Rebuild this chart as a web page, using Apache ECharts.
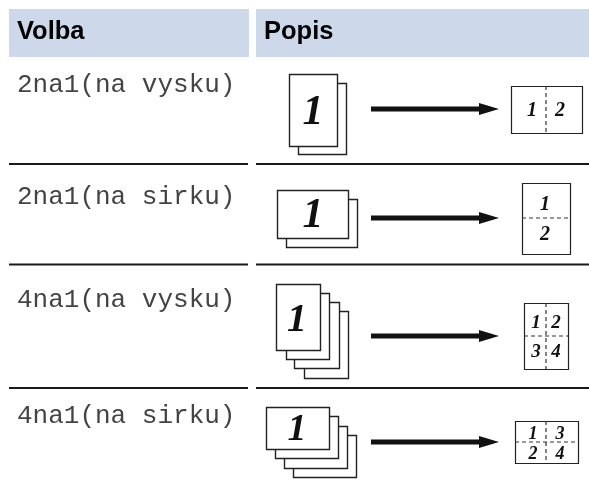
<!DOCTYPE html>
<html>
<head>
<meta charset="utf-8">
<style>
  html, body { margin: 0; padding: 0; background: #fff; }
  #main { width: 589px; height: 481px; }
</style>
<script src="https://cdn.jsdelivr.net/npm/echarts@6/dist/echarts.min.js"></script>
</head>
<body>
<div id="main"></div>
<script>
var headers = ['Volba', 'Popis']
var optionLabels = ['2na1(na vysku)', '2na1(na sirku)', '4na1(na vysku)', '4na1(na sirku)']
var bigDigit = '1'
var resultDigits = [
  ['1', '2'],
  ['1', '2'],
  ['1', '2', '3', '4'],
  ['1', '3', '2', '4']
]

var headerColor = '#cdd9ea'
var ink = '#1a1a1a'
var g = []

function rect(x, y, w, h, fill, stroke, lw) {
  g.push({ type: 'rect', shape: { x: x, y: y, width: w, height: h },
    style: { fill: fill, stroke: stroke || null, lineWidth: lw || 0 } })
}
function line(x1, y1, x2, y2, lw, dash, color) {
  g.push({ type: 'line', shape: { x1: x1, y1: y1, x2: x2, y2: y2 },
    style: { stroke: color || ink, lineWidth: lw, lineDash: dash || null } })
}
function text(str, x, y, font, fill, align) {
  g.push({ type: 'text', x: x, y: y,
    style: { text: str, font: font, fill: fill || ink, align: align || 'left', verticalAlign: 'middle' } })
}
// y is the centre of the glyph, the em box sits a bit higher than the digit
function digit(str, x, y, size) {
  text(str, x, y + size * 0.06, 'italic bold ' + size + 'px "Liberation Serif"', '#111', 'center')
}
function arrow(y) {
  rect(371, y - 2.5, 112, 5, '#111')
  g.push({ type: 'polygon', shape: { points: [[479, y - 6], [499, y], [479, y + 6]] }, style: { fill: '#111' } })
}
// last sheet first, so the front one covers the rest
function stack(sheets) {
  for (var i = sheets.length - 1; i >= 0; i--) {
    var s = sheets[i]
    rect(s[0] + 0.5, s[1] + 0.5, s[2] - s[0], s[3] - s[1], '#fff', '#222', 1.4)
  }
}
function result(x1, y1, x2, y2) {
  rect(x1 + 0.5, y1 + 0.5, x2 - x1, y2 - y1, '#fff', '#222', 1.2)
}

// header bands
rect(9, 9, 240, 48, headerColor)
rect(256, 9, 333, 48, headerColor)
text(headers[0], 17, 32, 'bold 25.5px "Liberation Sans"', '#000')
text(headers[1], 264, 32, 'bold 25.5px "Liberation Sans"', '#000')

// row separators
;[164, 264.5, 388].forEach(function (y) {
  line(9, y, 248, y, 2)
  line(256, y, 589, y, 2)
})

// option names
var labelY = [85, 197, 300, 416]
optionLabels.forEach(function (name, i) {
  text(name, 17, labelY[i], '26px "Liberation Mono"', '#444')
})

// row 1
stack([[289, 74, 337, 146], [298, 83, 346, 154]])
digit(bigDigit, 313, 111, 42)
arrow(109)
result(511, 86, 582, 133)
line(546, 86, 546, 133, 1.2, [4, 3], '#333')
digit(resultDigits[0][0], 532, 110, 20)
digit(resultDigits[0][1], 560, 110, 20)

// row 2
stack([[277, 190, 348, 238], [286, 199, 357, 247]])
digit(bigDigit, 313, 214, 42)
arrow(218)
result(522, 183, 570, 254)
line(522, 218, 570, 218, 1.2, [4, 3], '#333')
digit(resultDigits[1][0], 545, 204, 20)
digit(resultDigits[1][1], 545, 234, 20)

// row 3
stack([[276, 284, 320, 350], [286, 293, 329, 359], [294, 302, 339, 368], [304, 311, 348, 378]])
digit(bigDigit, 297, 318, 40)
arrow(336)
result(524, 303, 568, 369)
line(546, 303, 546, 369, 1.2, [4, 3], '#333')
line(524, 336, 568, 336, 1.2, [4, 3], '#333')
digit(resultDigits[2][0], 536, 322, 19)
digit(resultDigits[2][1], 556, 322, 19)
digit(resultDigits[2][2], 536, 351, 19)
digit(resultDigits[2][3], 556, 351, 19)

// row 4
stack([[266, 407, 329, 449], [275, 416, 338, 458], [284, 426, 347, 468], [293, 435, 356, 477]])
digit(bigDigit, 297, 428, 38)
arrow(442)
result(515, 421, 578, 463)
line(546, 421, 546, 463, 1.2, [4, 3], '#333')
line(515, 442, 578, 442, 1.2, [4, 3], '#333')
digit(resultDigits[3][0], 533, 433, 18)
digit(resultDigits[3][1], 560, 433, 18)
digit(resultDigits[3][2], 533, 453, 18)
digit(resultDigits[3][3], 560, 453, 18)

var chart = echarts.init(document.getElementById('main'))
chart.setOption({
  animation: false,
  backgroundColor: '#fff',
  graphic: { elements: g }
})
</script>
</body>
</html>
